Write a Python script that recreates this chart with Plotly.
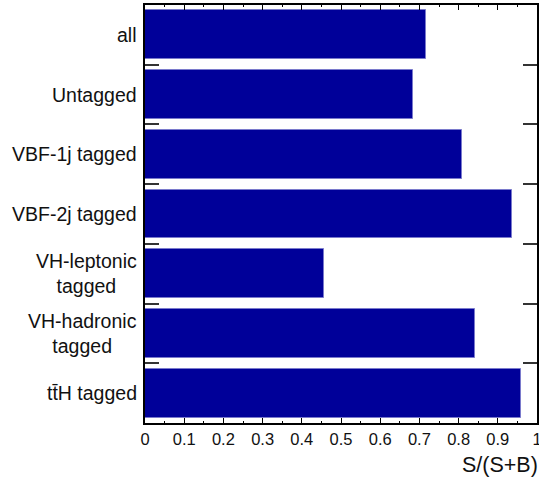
import plotly.graph_objects as go

categories = ["all", "Untagged", "VBF-1j tagged", "VBF-2j tagged",
              "VH-leptonic<br>tagged", "VH-hadronic<br>tagged", "tt\u0304H tagged"]
purity = [0.716, 0.684, 0.809, 0.936, 0.457, 0.841, 0.959]
x_ticks = [0, 0.1, 0.2, 0.3, 0.4, 0.5, 0.6, 0.7, 0.8, 0.9, 1]
x_tick_text = ["0", "0.1", "0.2", "0.3", "0.4", "0.5", "0.6", "0.7", "0.8", "0.9", "1"]

idx = list(range(len(categories)))

fig = go.Figure(go.Bar(
    x=purity, y=idx, orientation="h", width=0.82,
    marker=dict(color="#000099", line=dict(color="#7a7acc", width=1)),
))

# category labels, each line centred under the other
for i, name in enumerate(categories):
    fig.add_annotation(x=0, xref="paper", y=i, yref="y", text=name,
                       xanchor="right", yanchor="middle", align="center",
                       xshift=-6, showarrow=False,
                       font=dict(size=19.5, color="#111"))

fig.add_annotation(x=1, xref="paper", y=-0.1, yref="paper", text="S/(S+B)",
                   xanchor="right", yanchor="middle", showarrow=False,
                   xshift=3, font=dict(size=21.5, color="#111"))

fig.update_layout(
    width=539, height=479,
    margin=dict(l=145, r=2, t=5, b=56, autoexpand=False),
    paper_bgcolor="white", plot_bgcolor="white",
    font=dict(family="Liberation Sans, Arial, sans-serif", color="#111"),
    showlegend=False,
    bargap=0,
    xaxis=dict(range=[0, 1], tickvals=x_ticks, ticktext=x_tick_text,
               ticks="inside", ticklen=5, tickcolor="black", tickwidth=1,
               minor=dict(dtick=0.05, ticks="inside", ticklen=2, tickcolor="black"),
               showline=True, linecolor="black", linewidth=1.5, mirror="ticks",
               showgrid=False, zeroline=False, tickfont=dict(size=16.5),
               ticklabeloverflow="allow", automargin=False, fixedrange=True),
    yaxis=dict(range=[6.5, -0.5], tickvals=[i + 0.5 for i in idx[:-1]],
               ticks="inside", ticklen=14, tickcolor="#333", tickwidth=1.5,
               showticklabels=False, automargin=False,
               showline=True, linecolor="black", linewidth=1.5, mirror="ticks",
               showgrid=False, zeroline=False, fixedrange=True),
)

fig.write_html("out.html")
